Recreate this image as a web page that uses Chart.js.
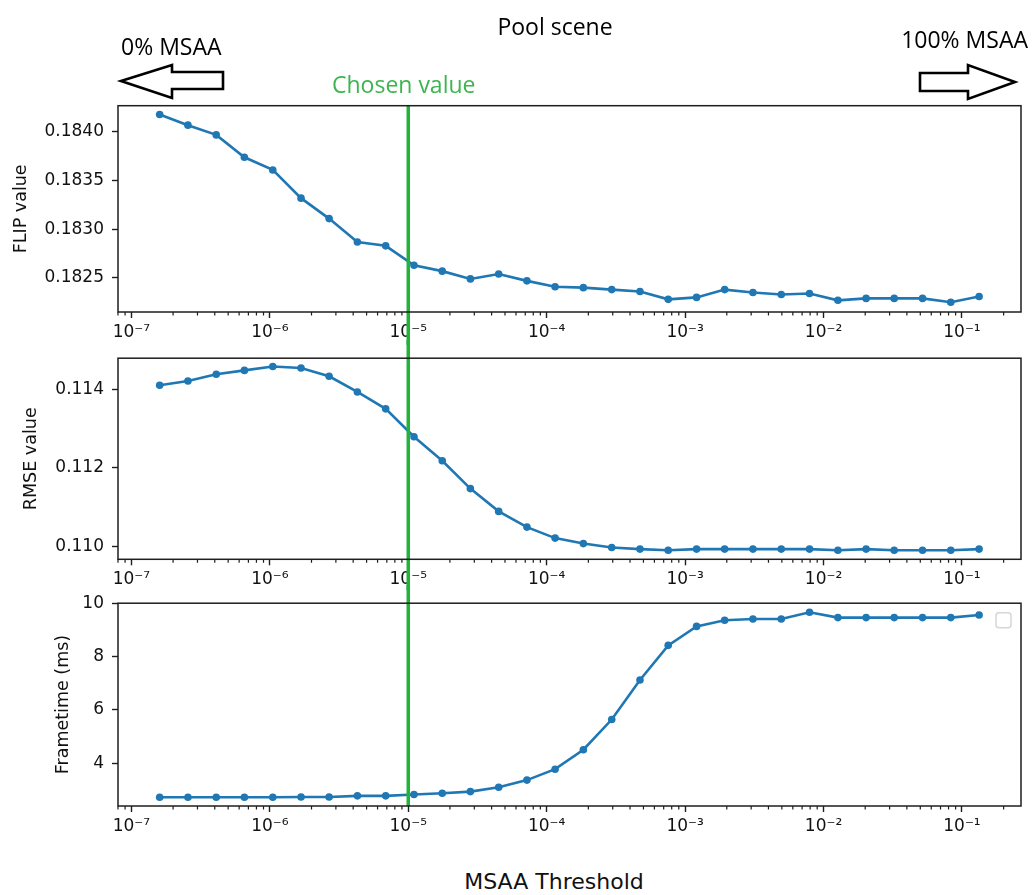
<!DOCTYPE html>
<html>
<head>
<meta charset="utf-8">
<script src="https://cdn.jsdelivr.net/npm/chart.js@4.4.1/dist/chart.umd.min.js"></script>
<style>
  html, body { margin: 0; padding: 0; background: #fff; }
  #fig { position: relative; width: 1032px; height: 895px; overflow: hidden; background: #fff; }
  .panel { position: absolute; left: 0; }
  .note { position: absolute; font-family: "Open Sans", sans-serif; font-size: 23px; line-height: 32px; white-space: nowrap; color: #000; }
  #xlabel { position: absolute; font-family: "DejaVu Sans", sans-serif; font-size: 22px; line-height: 26px; white-space: nowrap; color: #111; }
  svg { position: absolute; left: 0; top: 0; }
</style>
</head>
<body>
<div id="fig">
  <canvas id="flipChart" class="panel" width="1032" height="345" style="top:0px"></canvas>
  <canvas id="rmseChart" class="panel" width="1032" height="250" style="top:340px"></canvas>
  <canvas id="frameChart" class="panel" width="1032" height="255" style="top:585px"></canvas>

  <div class="note" style="left:555px; top:10px; transform:translateX(-50%);">Pool scene</div>
  <div class="note" style="left:121px; top:30px;">0% MSAA</div>
  <div class="note" style="right:4px; top:23px;">100% MSAA</div>
  <div class="note" style="left:332px; top:68px; color:#3db54f;">Chosen value</div>
  <div id="xlabel" style="left:554px; top:869px; transform:translateX(-50%);">MSAA Threshold</div>

  <svg width="1032" height="120" viewBox="0 0 1032 120">
    <polygon points="121,81 172,65 172,72 223,72 223,89 172,89 172,98" fill="#fff" stroke="#000" stroke-width="2.6" stroke-linejoin="miter"/>
    <polygon points="920,73 968,73 968,65 1015,82 968,99 968,91 920,91" fill="#fff" stroke="#000" stroke-width="2.6" stroke-linejoin="miter"/>
  </svg>
</div>

<script>
// MSAA threshold sweep (x) and the measured quality / cost at each step
const thresholds = [1.6e-7, 2.56e-7, 4.1e-7, 6.55e-7, 1.05e-6, 1.68e-6, 2.68e-6, 4.29e-6, 6.87e-6, 1.1e-5,
                    1.76e-5, 2.81e-5, 4.5e-5, 7.2e-5, 1.15e-4, 1.84e-4, 2.95e-4, 4.72e-4, 7.55e-4, 1.21e-3,
                    1.93e-3, 3.09e-3, 4.95e-3, 7.92e-3, 1.27e-2, 2.03e-2, 3.24e-2, 5.19e-2, 8.3e-2, 1.33e-1];

const flipValues = [0.18418, 0.18407, 0.18397, 0.18374, 0.18361, 0.18332, 0.18311, 0.18287, 0.18283, 0.18263,
                    0.18257, 0.18249, 0.18254, 0.18247, 0.18241, 0.18240, 0.18238, 0.18236, 0.18228, 0.18230,
                    0.18238, 0.18235, 0.18233, 0.18234, 0.18227, 0.18229, 0.18229, 0.18229, 0.18225, 0.18231];

const rmseValues = [0.11410, 0.11421, 0.11438, 0.11448, 0.11458, 0.11454, 0.11433, 0.11393, 0.11350, 0.11279,
                    0.11218, 0.11147, 0.11089, 0.11049, 0.11021, 0.11007, 0.10997, 0.10993, 0.10990, 0.10993,
                    0.10993, 0.10993, 0.10993, 0.10993, 0.10990, 0.10993, 0.10990, 0.10990, 0.10990, 0.10993];

const frametimeMs = [2.73, 2.73, 2.73, 2.73, 2.73, 2.74, 2.74, 2.78, 2.78, 2.83,
                     2.88, 2.94, 3.10, 3.37, 3.78, 4.51, 5.64, 7.12, 8.42, 9.13,
                     9.36, 9.41, 9.41, 9.66, 9.46, 9.46, 9.46, 9.46, 9.46, 9.56];

const chosenThreshold = 1e-5;

// Axis ticks
const xMajorTicks = [1e-7, 1e-6, 1e-5, 1e-4, 1e-3, 1e-2, 1e-1];
const xTickLabels = ['10⁻⁷', '10⁻⁶', '10⁻⁵', '10⁻⁴', '10⁻³', '10⁻²', '10⁻¹'];
const flipTicks = [0.1825, 0.1830, 0.1835, 0.1840];
const rmseTicks = [0.110, 0.112, 0.114];
const frameTicks = [4, 6, 8, 10];

const X_MIN = 8.0e-8, X_MAX = 0.267;
const LINE_BLUE = '#1f77b4';
const SPINE = '#1e1e1e';
const tickFont = { family: 'DejaVu Sans', size: 17 };
const titleFont = { family: 'DejaVu Sans', size: 17.5 };

// Frame, minor log ticks, the chosen-threshold marker and the empty legend box
const panelDecor = {
  id: 'panelDecor',
  afterDatasetsDraw(chart, args, o) {
    const { ctx, chartArea: a, scales: { x } } = chart;
    const px = x.getPixelForValue(chosenThreshold);
    ctx.save();
    ctx.strokeStyle = '#22b33a';
    ctx.lineWidth = 3.5;
    ctx.beginPath();
    ctx.moveTo(px, o.markerFromArea ? a.top : 0);
    ctx.lineTo(px, o.markerToArea ? a.bottom : chart.height);
    ctx.stroke();
    ctx.restore();
  },
  afterDraw(chart, args, o) {
    const { ctx, chartArea: a, scales: { x } } = chart;
    ctx.save();
    ctx.strokeStyle = SPINE;
    ctx.lineWidth = 1.5;
    ctx.strokeRect(a.left, a.top, a.right - a.left, a.bottom - a.top);
    // minor ticks at 2..9 x 10^n
    ctx.lineWidth = 1.2;
    ctx.beginPath();
    for (let d = -8; d <= 0; d++) {
      for (let m = 2; m <= 9; m++) {
        const v = m * Math.pow(10, d);
        if (v < X_MIN || v > X_MAX) continue;
        const p = x.getPixelForValue(v);
        ctx.moveTo(p, a.bottom);
        ctx.lineTo(p, a.bottom + 3.5);
      }
    }
    ctx.stroke();
    if (o.legendBox) {
      const w = 15, h = 15, lx = a.right - 25, ly = a.top + 9.5, r = 3;
      ctx.strokeStyle = '#d6d6d6';
      ctx.fillStyle = 'rgba(255,255,255,0.8)';
      ctx.lineWidth = 1.5;
      ctx.beginPath();
      ctx.roundRect(lx, ly, w, h, r);
      ctx.fill();
      ctx.stroke();
    }
    ctx.restore();
  }
};

function makePanel(canvasId, values, cfg) {
  const points = thresholds.map((t, i) => ({ x: t, y: values[i] }));
  return new Chart(document.getElementById(canvasId), {
    type: 'line',
    data: {
      datasets: [{
        data: points,
        borderColor: LINE_BLUE,
        backgroundColor: LINE_BLUE,
        borderWidth: 2.6,
        pointRadius: 3.8,
        pointBorderWidth: 0,
        pointBackgroundColor: LINE_BLUE,
        tension: 0,
        fill: false
      }]
    },
    options: {
      responsive: false,
      animation: false,
      events: [],
      layout: { padding: { top: cfg.padTop, right: 11, left: 0, bottom: 0 } },
      plugins: {
        legend: { display: false },
        tooltip: { enabled: false },
        panelDecor: { markerFromArea: cfg.markerFromArea, markerToArea: cfg.markerToArea, legendBox: cfg.legendBox }
      },
      scales: {
        x: {
          type: 'logarithmic',
          min: X_MIN,
          max: X_MAX,
          afterBuildTicks: s => { s.ticks = xMajorTicks.map(v => ({ value: v })); },
          afterFit: s => { s.height = cfg.xHeight; },
          ticks: {
            autoSkip: false,
            maxRotation: 0,
            padding: 4,
            color: '#111',
            font: tickFont,
            callback: (v, i) => xTickLabels[i]
          },
          grid: { display: true, drawOnChartArea: false, tickLength: 6, tickColor: SPINE, tickWidth: 1.4 },
          border: { display: false }
        },
        y: {
          min: cfg.yMin,
          max: cfg.yMax,
          afterBuildTicks: s => { s.ticks = cfg.yTicks.map(v => ({ value: v })); },
          afterFit: s => { s.width = 118; },
          ticks: {
            padding: 8,
            color: '#111',
            font: tickFont,
            callback: v => Number(v).toFixed(cfg.decimals)
          },
          grid: { display: true, drawOnChartArea: false, tickLength: 6, tickColor: SPINE, tickWidth: 1.4 },
          border: { display: false },
          title: {
            display: true,
            text: cfg.yTitle,
            color: '#111',
            font: titleFont,
            padding: { top: cfg.titlePad, bottom: 0 }
          }
        }
      }
    },
    plugins: [panelDecor]
  });
}

makePanel('flipChart', flipValues, {
  padTop: 105.7, xHeight: 33, yMin: 0.18215, yMax: 0.18427, yTicks: flipTicks, decimals: 4,
  yTitle: 'FLIP value', titlePad: 11, markerFromArea: true, markerToArea: false, legendBox: false
});
makePanel('rmseChart', rmseValues, {
  padTop: 14.3, xHeight: 30.7, yMin: 0.10967, yMax: 0.11479, yTicks: rmseTicks, decimals: 3,
  yTitle: 'RMSE value', titlePad: 21, markerFromArea: false, markerToArea: false, legendBox: false
});
makePanel('frameChart', frametimeMs, {
  padTop: 15.7, xHeight: 34, yMin: 2.4, yMax: 10, yTicks: frameTicks, decimals: 0,
  yTitle: 'Frametime (ms)', titlePad: 53, markerFromArea: false, markerToArea: true, legendBox: true
});
</script>
</body>
</html>
